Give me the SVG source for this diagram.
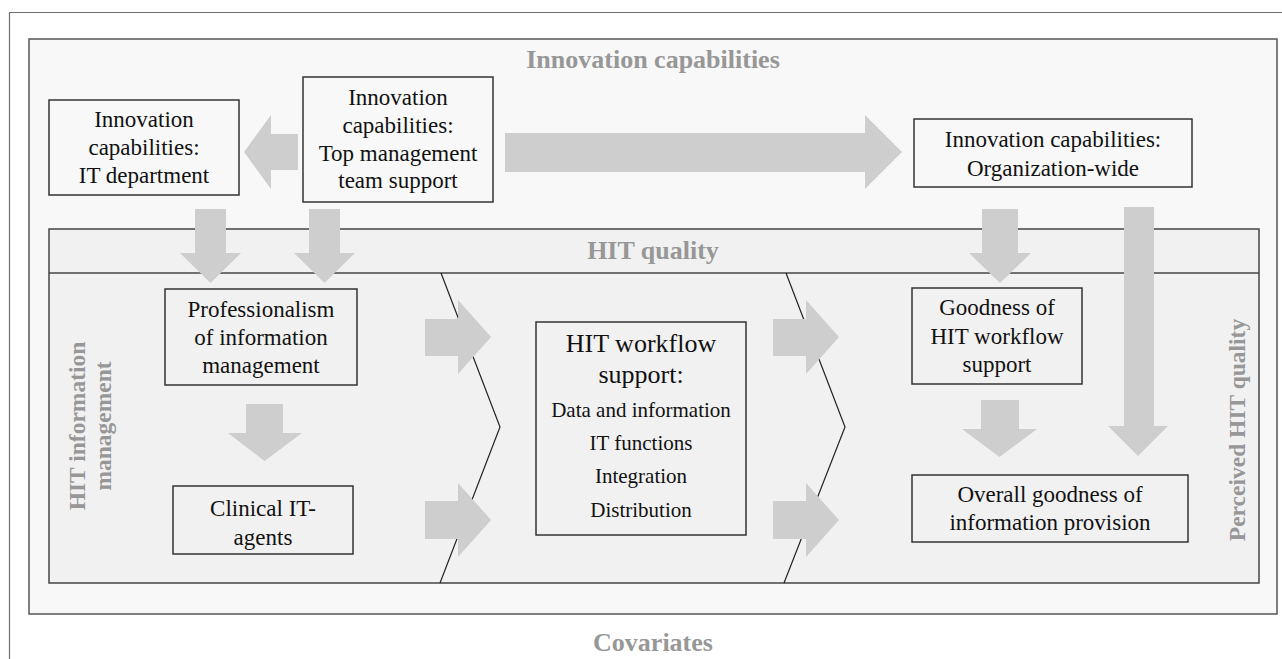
<svg xmlns="http://www.w3.org/2000/svg" width="1282" height="659" viewBox="0 0 1282 659" font-family="'Liberation Serif','Times New Roman',serif">
<style>
.frame{fill:none;stroke:#6e6e6e;stroke-width:1.2}
.panel1{fill:#f8f8f8;stroke:#555;stroke-width:1.5}
.panel2{fill:#f1f1f1;stroke:#444;stroke-width:1.5}
.sep{stroke:#444;stroke-width:1.5}
.chev{fill:none;stroke:#222;stroke-width:1.2}
.box{fill:none;stroke:#333;stroke-width:1.5}
.arrow{fill:#cececf}
text{font-family:"Liberation Serif","Times New Roman",serif}
.t{font-size:23px;fill:#111;text-anchor:middle}
.tb{font-size:26px;fill:#111;text-anchor:middle}
.ts{font-size:21px;fill:#111;text-anchor:middle}
.h{font-size:26px;font-weight:bold;fill:#979797;text-anchor:middle}
.hv{font-size:23.5px;font-weight:bold;fill:#979797;text-anchor:middle}
</style>
<g id="background">
<path class="frame" d="M9.5,659 V12.5 H1282"/>
<rect id="innovation-panel" class="panel1" x="29" y="39" width="1248" height="575"/>
<rect id="hit-quality-panel" class="panel2" x="49" y="229" width="1210" height="354"/>
<line class="sep" x1="49" y1="273" x2="1259" y2="273"/>
<polyline class="chev" points="441,273 500,427 440,583"/>
<polyline class="chev" points="786,273 845,427 784,583"/>
</g>
<g id="labels">
<text class="h" x="653" y="68">Innovation capabilities</text>
<text class="h" x="653" y="259">HIT quality</text>
<text class="h" x="653" y="651">Covariates</text>
<text class="hv" transform="translate(85,426) rotate(-90)">HIT information</text>
<text class="hv" transform="translate(111,426) rotate(-90)">management</text>
<text class="hv" transform="translate(1245,430) rotate(-90)">Perceived HIT quality</text>
</g>
<g id="node-it-department">
<rect class="box" x="49" y="100" width="190" height="95"/>
<text class="t" x="144" y="127">Innovation</text>
<text class="t" x="144" y="155">capabilities:</text>
<text class="t" x="144" y="183">IT department</text>
</g>
<g id="node-top-management">
<rect class="box" x="303" y="77" width="190" height="125"/>
<text class="t" x="398" y="105">Innovation</text>
<text class="t" x="398" y="133">capabilities:</text>
<text class="t" x="398" y="161">Top management</text>
<text class="t" x="398" y="188">team support</text>
</g>
<g id="node-organization-wide">
<rect class="box" x="914" y="119" width="278" height="68"/>
<text class="t" x="1053" y="147">Innovation capabilities:</text>
<text class="t" x="1053" y="176">Organization-wide</text>
</g>
<g id="node-professionalism">
<rect class="box" x="165" y="289" width="192" height="96"/>
<text class="t" x="261" y="317">Professionalism</text>
<text class="t" x="261" y="345">of information</text>
<text class="t" x="261" y="373">management</text>
</g>
<g id="node-clinical-it-agents">
<rect class="box" x="173" y="486" width="180" height="68"/>
<text class="t" x="263" y="516">Clinical IT-</text>
<text class="t" x="263" y="545">agents</text>
</g>
<g id="node-hit-workflow-support">
<rect class="box" x="536" y="322" width="210" height="213"/>
<text class="tb" x="641" y="352">HIT workflow</text>
<text class="tb" x="641" y="383">support:</text>
<text class="ts" x="641" y="417">Data and information</text>
<text class="ts" x="641" y="450">IT functions</text>
<text class="ts" x="641" y="483">Integration</text>
<text class="ts" x="641" y="517">Distribution</text>
</g>
<g id="node-goodness-workflow">
<rect class="box" x="912" y="288" width="170" height="96"/>
<text class="t" x="997" y="315">Goodness of</text>
<text class="t" x="997" y="344">HIT workflow</text>
<text class="t" x="997" y="372">support</text>
</g>
<g id="node-overall-goodness">
<rect class="box" x="912" y="475" width="276" height="67"/>
<text class="t" x="1050" y="502">Overall goodness of</text>
<text class="t" x="1050" y="530">information provision</text>
</g>
<g id="connectors">
<polygon class="arrow" points="298,134 271,134 271,115 244,152 271,189 271,170 298,170"/>
<polygon class="arrow" points="505,133 865,133 865,115 902,152 865,189 865,172 505,172"/>
<polygon class="arrow" points="195,209 226,209 226,253 241,253 210.5,283 180,253 195,253"/>
<polygon class="arrow" points="309,209 340,209 340,253 355,253 324.5,283 294,253 309,253"/>
<polygon class="arrow" points="982,209 1018,209 1018,253 1031,253 1000,283 969,253 982,253"/>
<polygon class="arrow" points="1124,207 1154,207 1154,426 1168,426 1138,456 1108,426 1124,426"/>
<polygon class="arrow" points="246,404 283,404 283,433 302,433 264.5,461 228,433 246,433"/>
<polygon class="arrow" points="981,400 1019,400 1019,429 1037,429 999.5,457 962,429 981,429"/>
<polygon class="arrow" points="425,319 458,319 458,300 491,337 458,374 458,356 425,356"/>
<polygon class="arrow" points="425,501 458,501 458,483 491,520 458,557 458,539 425,539"/>
<polygon class="arrow" points="773,319 806,319 806,300 839,337 806,374 806,356 773,356"/>
<polygon class="arrow" points="773,501 806,501 806,483 839,520 806,557 806,539 773,539"/>
</g>
</svg>
